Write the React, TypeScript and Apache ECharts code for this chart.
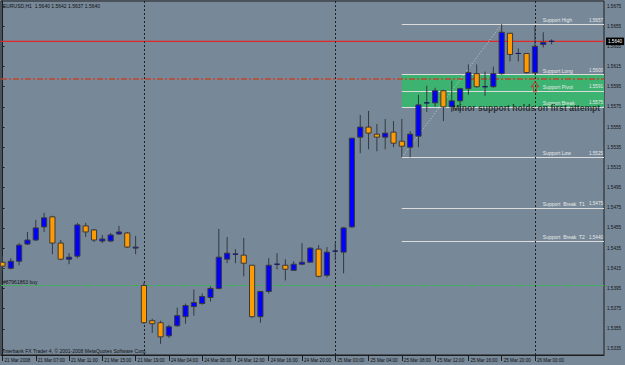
import React, { useEffect, useRef } from "react";
import * as echarts from "echarts";

// ---- bar times (H1) ----
const sessions: Array<[string, number, number]> = [
  ["21 Mar", 3, 19],
  ["24 Mar", 1, 23],
  ["25 Mar", 0, 23],
  ["26 Mar", 0, 2],
];
const barTimes: string[] = sessions.flatMap(([d, a, b]) =>
  Array.from({ length: b - a + 1 }, (_, k) => `${d} ${String(a + k).padStart(2, "0")}:00`)
);

// ---- OHLC ----
const open = [
  1.5421, 1.5415, 1.5422, 1.5439, 1.5443, 1.5456, 1.5466, 1.5440, 1.5424, 1.5427,
  1.5457, 1.5453, 1.5442, 1.5442, 1.5449, 1.5450, 1.5435,
  1.5398, 1.5363, 1.5361, 1.5348, 1.5358, 1.5367, 1.5377, 1.5380, 1.5386, 1.5395,
  1.5424, 1.5429, 1.5428, 1.5418, 1.5367, 1.5392, 1.5419, 1.5418, 1.5413, 1.5419,
  1.5421, 1.5434, 1.5408,
  1.5432, 1.5431, 1.5456, 1.5545, 1.5555, 1.5548, 1.5545, 1.5550, 1.5541, 1.5535,
  1.5546, 1.5579, 1.5579, 1.5591, 1.5575, 1.5581, 1.5593, 1.5608, 1.5595, 1.5595,
  1.5608, 1.5648, 1.5628, 1.5628,
  1.5609, 1.5637, 1.5640,
];
const close = [
  1.5417, 1.5422, 1.5438, 1.5443, 1.5455, 1.5465, 1.5440, 1.5424, 1.5426, 1.5458,
  1.5451, 1.5443, 1.5444, 1.5448, 1.5451, 1.5436, 1.5436,
  1.5361, 1.5360, 1.5347, 1.5357, 1.5368, 1.5378, 1.5381, 1.5387, 1.5395, 1.5426,
  1.5430, 1.5429, 1.5420, 1.5367, 1.5392, 1.5418, 1.5419, 1.5414, 1.5419, 1.5421,
  1.5435, 1.5407, 1.5431,
  1.5432, 1.5455, 1.5544, 1.5555, 1.5549, 1.5545, 1.5549, 1.5539, 1.5536, 1.5548,
  1.5577, 1.5579, 1.5591, 1.5575, 1.5581, 1.5593, 1.5609, 1.5595, 1.5595, 1.5608,
  1.5649, 1.5627, 1.5628, 1.5609,
  1.5635, 1.5639, 1.5640,
];
const high = [
  1.5427, 1.5425, 1.5440, 1.5451, 1.5463, 1.5470, 1.5467, 1.5443, 1.5430, 1.5460,
  1.5460, 1.5454, 1.5448, 1.5450, 1.5457, 1.5451, 1.5447,
  1.5401, 1.5365, 1.5363, 1.5359, 1.5376, 1.5380, 1.5394, 1.5390, 1.5397, 1.5454,
  1.5446, 1.5434, 1.5445, 1.5418, 1.5392, 1.5425, 1.5430, 1.5424, 1.5422, 1.5440,
  1.5436, 1.5438, 1.5436,
  1.5440, 1.5456, 1.5544, 1.5567, 1.5571, 1.5558, 1.5563, 1.5561, 1.5563, 1.5551,
  1.5587, 1.5596, 1.5594, 1.5592, 1.5601, 1.5594, 1.5617, 1.5617, 1.5610, 1.5615,
  1.5657, 1.5648, 1.5633, 1.5628,
  1.5655, 1.5649, 1.5642,
];
const low = [
  1.5413, 1.5414, 1.5418, 1.5438, 1.5442, 1.5451, 1.5429, 1.5423, 1.5419, 1.5425,
  1.5446, 1.5441, 1.5440, 1.5441, 1.5448, 1.5435, 1.5429,
  1.5360, 1.5351, 1.5340, 1.5346, 1.5357, 1.5360, 1.5368, 1.5379, 1.5382, 1.5394,
  1.5420, 1.5420, 1.5407, 1.5366, 1.5361, 1.5390, 1.5414, 1.5403, 1.5413, 1.5418,
  1.5421, 1.5406, 1.5406,
  1.5423, 1.5410, 1.5455, 1.5529, 1.5533, 1.5531, 1.5533, 1.5535, 1.5525, 1.5525,
  1.5535, 1.5570, 1.5575, 1.5561, 1.5570, 1.5569, 1.5587, 1.5594, 1.5586, 1.5594,
  1.5607, 1.5620, 1.5620, 1.5608,
  1.5607, 1.5634, 1.5637,
];

// ---- axes ----
const xTickIndex = [0, 4, 8, 12, 16, 20, 24, 28, 32, 36, 40, 44, 48, 52, 56, 60, 64];
const xTickLabels = [
  "21 Mar 2008", "21 Mar 07:00", "21 Mar 11:00", "21 Mar 15:00", "21 Mar 19:00",
  "24 Mar 04:00", "24 Mar 08:00", "24 Mar 12:00", "24 Mar 16:00", "24 Mar 20:00",
  "25 Mar 00:00", "25 Mar 04:00", "25 Mar 08:00", "25 Mar 12:00", "25 Mar 16:00",
  "25 Mar 20:00", "26 Mar 00:00",
];
const yTickValues = [
  1.5335, 1.5355, 1.5375, 1.5395, 1.5415, 1.5435, 1.5455, 1.5475, 1.5495,
  1.5515, 1.5535, 1.5555, 1.5575, 1.5595, 1.5615, 1.5635, 1.5655, 1.5675,
];
const X_MIN = -0.18;
const X_MAX = 72.3;

// ---- support levels ----
const levelNames = [
  "Support High", "Support Long", "Support Pivot", "Support Break",
  "Support Low", "Support  Break  T1", "Support  Break  T2",
];
const levelPrices = [1.5657, 1.5607, 1.5591, 1.5575, 1.5525, 1.5475, 1.5442];
const levelLabels = ["1.5657", "1.5600", "1.5591", "1.5575", "1.5525", "1.5475", "1.5440"];
const levelStartIndex = 48;
const trendFrom: [number, number] = [48, 1.5525];
const trendTo: [number, number] = [60, 1.5657];
const daySeparators = [17, 40, 64];

const currentPrice = 1.564;
const tpPrice = 1.5603;
const orderPrice = 1.5398;
const orderLabel = "#87961863 buy";
const headerText = "EURUSD,H1  1.5640 1.5642 1.5637 1.5640";
const footerText = "Interbank FX Trader 4, \u00a9 2001-2008 MetaQuotes Software Corp.";
const noteText = "Minor support holds on first attempt";
const notePoint: [number, number] = [54.05, 1.5574];
const arrowPoint: [number, number] = [64, 1.5595];

const FONT = "'Liberation Sans', Arial, sans-serif";
const LEVEL_TEXT = "#e8e8e8";

function renderCandle(params: any, api: any) {
  const i = api.value(0);
  const o = api.value(1);
  const c = api.value(2);
  const l = api.value(3);
  const h = api.value(4);
  const pO = api.coord([i, o]);
  const pC = api.coord([i, c]);
  const pL = api.coord([i, l]);
  const pH = api.coord([i, h]);
  const w = api.size([1, 0])[0] * 0.62;
  const x = pO[0];
  const top = Math.min(pO[1], pC[1]);
  const bh = Math.abs(pO[1] - pC[1]);
  const bull = c > o;
  const bear = c < o;
  return {
    type: "group",
    children: [
      {
        type: "line",
        shape: { x1: x, y1: pH[1], x2: x, y2: pL[1] },
        style: { stroke: "#333a40", lineWidth: 1 },
      },
      {
        type: "rect",
        shape: { x: x - w / 2, y: top, width: w, height: bh },
        style: {
          fill: bull ? "#0000ff" : bear ? "#ff9a00" : "#1a1a60",
          stroke: bh < 0.5 ? "#1a1a60" : "#3a3a3a",
          lineWidth: 1,
        },
      },
    ],
  };
}

// visible level lines carrying the price text at their right end
const levelValueLines = levelPrices.map((p, k) => [
  {
    coord: [levelStartIndex, p],
    lineStyle: { color: "#dcdcdc", width: 1, type: "solid" },
    label: {
      show: true,
      position: "insideEndTop",
      distance: [1, 1.5],
      formatter: levelLabels[k],
      fontSize: 4.6,
      color: LEVEL_TEXT,
      fontFamily: FONT,
    },
  },
  { coord: [X_MAX, p] },
]);
// the same levels again, drawn transparent, carrying the level names
const levelNameLines = levelPrices.map((p, k) => [
  {
    coord: [levelStartIndex, p],
    lineStyle: { color: "rgba(0,0,0,0)", width: 1 },
    label: {
      show: true,
      position: "insideStartTop",
      distance: [141, 1.5],
      formatter: levelNames[k],
      fontSize: 5,
      color: LEVEL_TEXT,
      fontFamily: FONT,
    },
  },
  { coord: [X_MAX, p] },
]);

const option: any = {
  animation: false,
  backgroundColor: "#778899",
  textStyle: { fontFamily: FONT },
  grid: {
    left: 1,
    top: 1,
    width: 603,
    height: 354,
    show: true,
    borderColor: "#1e1e1e",
    borderWidth: 1,
  },
  xAxis: {
    type: "value",
    min: X_MIN,
    max: X_MAX,
    splitLine: { show: false },
    axisLine: { show: true, onZero: false, lineStyle: { color: "#1e1e1e" } },
    axisTick: { show: true, customValues: xTickIndex, length: 6, lineStyle: { color: "#1e1e1e" } },
    axisLabel: {
      customValues: xTickIndex,
      formatter: (v: number) => {
        const k = xTickIndex.indexOf(Math.round(v));
        return k >= 0 ? xTickLabels[k] : "";
      },
      align: "left",
      margin: 2.5,
      padding: [0, 0, 0, 2],
      fontSize: 4.6,
      color: "#111",
      fontFamily: FONT,
    },
  },
  yAxis: {
    type: "value",
    position: "right",
    min: 1.5329,
    max: 1.568,
    splitLine: { show: false },
    axisLine: { show: true, lineStyle: { color: "#1e1e1e" } },
    axisTick: { show: true, customValues: yTickValues, length: 2, lineStyle: { color: "#1e1e1e" } },
    axisLabel: {
      customValues: yTickValues,
      formatter: (v: number) => v.toFixed(4),
      fontSize: 4.6,
      color: "#111",
      margin: 3,
      fontFamily: FONT,
    },
  },
  graphic: [
    {
      type: "text",
      left: 3,
      top: 3.5,
      style: { text: headerText, fontSize: 5, fill: "#111", fontFamily: FONT },
    },
    {
      type: "text",
      left: 3,
      top: 348.5,
      style: { text: footerText, fontSize: 5, fill: "#111", fontFamily: FONT },
    },
  ],
  series: [
    {
      type: "line",
      data: [],
      z: 1,
      silent: true,
      markArea: {
        silent: true,
        itemStyle: { color: "#3cb371", opacity: 1 },
        data: [[{ coord: [levelStartIndex, levelPrices[1]] }, { coord: [X_MAX, levelPrices[3]] }]],
      },
    },
    {
      type: "line",
      data: [],
      z: 2,
      silent: true,
      markLine: {
        silent: true,
        precision: 4,
        symbol: ["none", "none"],
        label: { show: false },
        data: [
          ...levelValueLines,
          ...levelNameLines,
          [
            { coord: trendFrom, lineStyle: { color: "#d0d0d0", width: 1, type: [1, 2] } },
            { coord: trendTo },
          ],
          ...daySeparators.map((d) => ({
            xAxis: d,
            lineStyle: { color: "#222", width: 1, type: [2, 2] },
          })),
          {
            yAxis: tpPrice,
            lineStyle: { color: "#c0452e", width: 1.5, type: [6, 2, 2, 2] },
          },
          {
            yAxis: orderPrice,
            lineStyle: { color: "#2fb84c", width: 1.2, type: [6, 2, 2, 2] },
            label: {
              show: true,
              position: "insideStartTop",
              distance: [2, 1],
              formatter: orderLabel,
              fontSize: 5,
              color: "#111",
              fontFamily: FONT,
            },
          },
        ],
      },
    },
    {
      // current bid line
      name: "bid",
      type: "line",
      z: 2,
      silent: true,
      symbol: "none",
      showSymbol: false,
      color: "#e02828",
      lineStyle: { color: "#e02828", width: 1.2, type: "solid" },
      data: [
        [X_MIN, currentPrice],
        [X_MAX, currentPrice],
      ],
      endLabel: {
        show: true,
        distance: 2,
        formatter: () => currentPrice.toFixed(4),
        backgroundColor: "#000",
        color: "#fff",
        padding: [1.5, 2, 1, 2],
        fontSize: 4.6,
        fontFamily: FONT,
      },
    },
    {
      type: "custom",
      z: 3,
      zlevel: 1,
      clip: true,
      renderItem: renderCandle,
      encode: { x: 0, y: [1, 2, 3, 4] },
      data: barTimes.map((t, i) => [i, open[i], close[i], low[i], high[i]]),
    },
    {
      type: "scatter",
      z: 10,
      zlevel: 2,
      silent: true,
      data: [
        {
          value: notePoint,
          symbolSize: 0,
          label: {
            show: true,
            position: [0, 0],
            align: "left",
            verticalAlign: "middle",
            formatter: noteText,
            fontSize: 8.6,
            fontWeight: "bold",
            color: "#141414",
            fontFamily: FONT,
          },
        },
        {
          value: arrowPoint,
          symbol: "path://M5,0 L10,5 L7,5 L7,10 L3,10 L3,5 L0,5 Z",
          symbolSize: [7, 10],
          itemStyle: { color: "rgba(0,0,0,0)", borderColor: "#d02a2a", borderWidth: 1 },
          label: { show: false },
        },
      ],
    },
  ],
};

export default function App() {
  const ref = useRef<HTMLDivElement>(null);
  useEffect(() => {
    if (!ref.current) return;
    const chart = echarts.init(ref.current, undefined, { renderer: "svg" });
    chart.setOption(option);
    return () => chart.dispose();
  }, []);
  return (
    <div
      ref={ref}
      style={{ position: "fixed", left: 0, top: 0, width: 625, height: 365 }}
    />
  );
}
